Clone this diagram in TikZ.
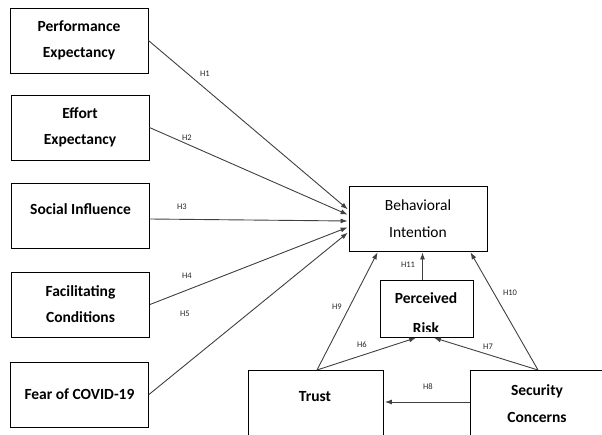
\documentclass[tikz,border=0pt]{standalone}
\usepackage{fontspec}
\setmainfont{Carlito}
\usetikzlibrary{arrows.meta, calc}

\begin{document}
\begin{tikzpicture}[x=1pt, y=-1pt]
	\tikzset{box/.style={draw, line width=0.9pt, minimum width=138pt, minimum height=65pt, align=center, font=\fontsize{15.5}{26}\selectfont\bfseries}}
	\tikzset{arrow/.style={-{Latex[length=7pt, width=5pt]}, draw=black!75, line width=0.9pt, shorten >=1pt}}
	\tikzset{hyp/.style={font=\fontsize{8.5}{9}\selectfont, text=black!85}}

	\useasboundingbox (0,0) rectangle (602,434);
	\clip (0,0) rectangle (602,434);

	% constructs on the left
	\node (pe) [box] at (79,40.5) {Performance\\Expectancy};
	\node (ee) [box] at (80,127.5) {Effort\\Expectancy};
	\node (si) [box, text depth=12pt] at (80.5,215.5) {Social Influence};
	\node (fc) [box] at (80.5,304.5) {Facilitating\\Conditions};
	\node (fear) [box] at (79.5,394.5) {Fear of COVID-19};

	% outcome
	\node (bi) [box, font=\fontsize{15.5}{27}\selectfont] at (418,218.5) {Behavioral\\Intention};

	% mediator, text cut by its frame
	\node (pr) [box, minimum width=93pt, minimum height=57pt] at (426.5,308.5) {};
	\begin{scope}
		\clip (pr.north west) rectangle ([yshift=6pt]pr.south east);
		\node (prtext) [font=\fontsize{15.5}{30}\selectfont\bfseries, align=center] at (426,313) {Perceived\\Risk};
	\end{scope}

	% antecedents at the bottom
	\node (trust) [box, minimum width=135pt, minimum height=100pt, anchor=north west] at (248,370) {};
	\node (trusttext) [font=\fontsize{15.5}{26}\selectfont\bfseries] at (315,397) {Trust};
	\node (sc) [box, minimum width=134pt, minimum height=100pt, anchor=north west] at (470,370) {};
	\node (sctext) [font=\fontsize{15.5}{27}\selectfont\bfseries, align=center] at (537,403.5) {Security\\Concerns};

	\coordinate (trusttop) at ([xshift=69pt]trust.north west);
	\coordinate (sctop) at ([xshift=68pt]sc.north west);

	% paths H1-H5
	\draw[arrow] (pe.east) -- ([yshift=8.5pt]bi.west);
	\draw[arrow] (ee.east) -- ([yshift=3.5pt]bi.west);
	\draw[arrow] ([yshift=-3.5pt]si.east) -- ([yshift=-2.5pt]bi.west);
	\draw[arrow] (fc.east) -- ([yshift=-8.5pt]bi.west);
	\draw[arrow] (fear.east) -- ([yshift=-13.5pt]bi.west);

	% paths H6-H11
	\draw[arrow] (trusttop) -- ([xshift=-40pt]bi.south);
	\draw[arrow] (trusttop) -- ([xshift=-9.5pt]pr.south);
	\draw[arrow] (sctop) -- ([xshift=6.5pt]pr.south);
	\draw[arrow] (sctop) -- ([xshift=52pt]bi.south);
	\draw[arrow] ([xshift=-4pt]pr.north) -- ([xshift=-4pt]pr.north |- bi.south);
	\draw[arrow] ($(sc.north west)+(0,32)$) -- ($(trust.north east)+(0,32)$);

	% hypothesis labels
	\node (h1) [hyp] at (205,74) {H1};
	\node (h2) [hyp] at (187,138) {H2};
	\node (h3) [hyp] at (182,207) {H3};
	\node (h4) [hyp] at (187,276) {H4};
	\node (h5) [hyp] at (185,314) {H5};
	\node (h6) [hyp] at (362,345) {H6};
	\node (h7) [hyp] at (488,347) {H7};
	\node (h8) [hyp] at (428,387) {H8};
	\node (h9) [hyp] at (337,307) {H9};
	\node (h10) [hyp] at (510,293) {H10};
	\node (h11) [hyp] at (408,265) {H11};
\end{tikzpicture}
\end{document}
